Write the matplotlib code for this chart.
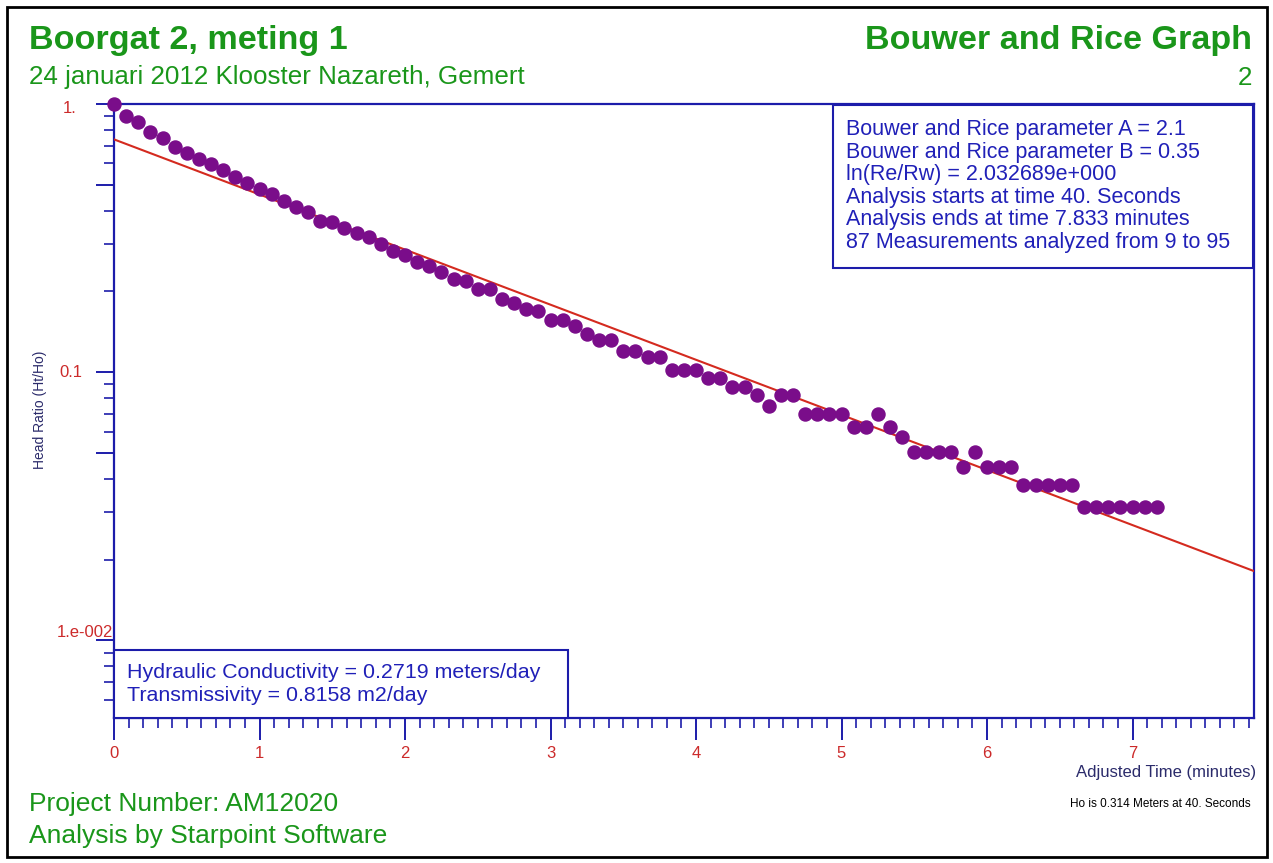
import numpy as np
import matplotlib
matplotlib.use("Agg")
from matplotlib import pyplot as plt
from matplotlib.patches import Rectangle
from matplotlib.ticker import MultipleLocator, LogLocator, NullFormatter
from matplotlib.transforms import blended_transform_factory

plt.rcParams["font.family"] = ["Liberation Sans", "DejaVu Sans"]

# elapsed time since start of analysis (seconds)
elapsed_s = [0, 5, 10, 15, 20, 25, 30, 35, 40, 45, 50, 55, 60, 65, 70,
             75, 80, 85, 90, 95, 100, 105, 110, 115, 120, 125, 130, 135, 140, 145,
             150, 155, 160, 165, 170, 175, 180, 185, 190, 195, 200, 205, 210, 215, 220,
             225, 230, 235, 240, 245, 250, 255, 260, 265, 270, 275, 280, 285, 290, 295,
             300, 305, 310, 315, 320, 325, 330, 335, 340, 345, 350, 355, 360, 365, 370,
             375, 380, 385, 390, 395, 400, 405, 410, 415, 420, 425, 430]
head_ratio = [1.000, 0.902, 0.855, 0.788, 0.749, 0.693, 0.658, 0.622, 0.597, 0.567,
              0.535, 0.506, 0.482, 0.461, 0.435, 0.414, 0.396, 0.367, 0.364, 0.344,
              0.329, 0.320, 0.300, 0.283, 0.273, 0.258, 0.249, 0.236, 0.222, 0.219,
              0.204, 0.204, 0.188, 0.181, 0.172, 0.169, 0.156, 0.156, 0.149, 0.139,
              0.132, 0.132, 0.120, 0.120, 0.114, 0.114, 0.102, 0.102, 0.102, 0.095,
              0.095, 0.088, 0.088, 0.082, 0.075, 0.082, 0.082, 0.070, 0.070, 0.070,
              0.070, 0.0625, 0.0625, 0.070, 0.0625, 0.0572, 0.0502, 0.0502, 0.0502, 0.0502,
              0.0441, 0.0502, 0.0441, 0.0441, 0.0441, 0.0381, 0.0381, 0.0381, 0.0381, 0.0381,
              0.0314, 0.0314, 0.0314, 0.0314, 0.0314, 0.0314, 0.0314]

# fitted straight line (log10 of head ratio vs minutes)
fit_ratio_t0 = 0.738
fit_log_slope = -0.2055

xmax = 7.835
ymin = 0.00513

info_lines = ["Bouwer and Rice parameter A = 2.1",
              "Bouwer and Rice parameter B = 0.35",
              "ln(Re/Rw) = 2.032689e+000",
              "Analysis starts at time 40. Seconds",
              "Analysis ends at time 7.833 minutes",
              "87 Measurements analyzed from 9 to 95"]
result_lines = ["Hydraulic Conductivity = 0.2719 meters/day",
                "Transmissivity = 0.8158 m2/day"]
ytick_vals = [1.0, 0.1, 0.01]
ytick_text = ["1.", "0.1", "1.e-002"]

green = "#1a961a"
frame = "#1c1caa"
txtblue = "#2020b8"
red = "#cc2a2a"
purple = "#7a0d8a"
fitred = "#d42a1f"
navy = "#2b2b6b"

W, H = 1273, 863
def fx(x): return x / W
def fy(y): return 1 - y / H

t_min = np.array(elapsed_s) / 60.0

fig = plt.figure(figsize=(W / 100, H / 100), dpi=100)
ax = fig.add_axes([fx(114), fy(718), fx(1254) - fx(114), fy(104) - fy(718)])
ax.set_yscale("log")
ax.set_xlim(0, xmax)
ax.set_ylim(ymin, 1.0)

tl = np.array([0, xmax])
ax.plot(tl, fit_ratio_t0 * 10 ** (fit_log_slope * tl), color=fitred, lw=1.5, zorder=3)
ax.plot(t_min, head_ratio, "o", color=purple, ms=9.4, mec=purple, clip_on=False, zorder=4)

for s in ax.spines.values():
    s.set_color(frame)
    s.set_linewidth(1.6)

ax.xaxis.set_major_locator(MultipleLocator(1))
ax.xaxis.set_minor_locator(MultipleLocator(0.1))
ax.tick_params(axis="x", which="major", direction="out", length=16, width=1.4,
               color=frame, labelcolor=red, labelsize=12, pad=4)
ax.tick_params(axis="x", which="minor", direction="out", length=7, width=1.2, color=frame)

ax.yaxis.set_major_locator(LogLocator(base=10, subs=[1.0, 5.0]))
ax.yaxis.set_minor_locator(LogLocator(base=10, subs=[2, 3, 4, 6, 7, 8, 9]))
ax.yaxis.set_major_formatter(NullFormatter())
ax.yaxis.set_minor_formatter(NullFormatter())
ax.tick_params(axis="y", which="major", direction="out", length=13, width=1.4, color=frame)
ax.tick_params(axis="y", which="minor", direction="out", length=7, width=1.2, color=frame)

# y tick labels placed like the original
tr = blended_transform_factory(fig.transFigure, ax.transData)
ylab_x = [fx(76), fx(82), fx(113)]
ylab_dy = [0.96, 1.0, 1.07]
for v, lab, x, d in zip(ytick_vals, ytick_text, ylab_x, ylab_dy):
    ax.text(x, v * d, lab, transform=tr, ha="right", va="center", color=red,
            fontsize=12, clip_on=False)

fig.text(fx(40), fy(410), "Head Ratio (Ht/Ho)", rotation=90, ha="center", va="center",
         color=navy, fontsize=10)
fig.text(fx(1256), fy(772), "Adjusted Time (minutes)", ha="right", va="center",
         color=navy, fontsize=12)
fig.text(fx(1251), fy(804), "Ho is 0.314 Meters at 40. Seconds", ha="right", va="center",
         color="black", fontsize=8.5)

# headers / footers
fig.text(fx(29), fy(40), "Boorgat 2, meting 1", ha="left", va="center", color=green,
         fontsize=24.6, fontweight="bold")
fig.text(fx(29), fy(77), "24 januari 2012 Klooster Nazareth, Gemert", ha="left",
         va="center", color=green, fontsize=18.7)
fig.text(fx(1252), fy(40), "Bouwer and Rice Graph", ha="right", va="center", color=green,
         fontsize=24.6, fontweight="bold")
fig.text(fx(1252), fy(78), "2", ha="right", va="center", color=green, fontsize=18.7)
fig.text(fx(29), fy(804), "Project Number: AM12020", ha="left", va="center",
         color=green, fontsize=19)
fig.text(fx(29), fy(836), "Analysis by Starpoint Software", ha="left", va="center",
         color=green, fontsize=19)

# info boxes
fig.add_artist(Rectangle((fx(833), fy(268)), fx(1253) - fx(833), fy(105) - fy(268),
                         transform=fig.transFigure, facecolor="white", edgecolor=frame,
                         lw=1.5, zorder=5))
for i, line in enumerate(info_lines):
    fig.text(fx(846), fy(130 + 22.4 * i), line, ha="left", va="center", color=txtblue,
             fontsize=15.5, zorder=6)

fig.add_artist(Rectangle((fx(114), fy(718)), fx(568) - fx(114), fy(650) - fy(718),
                         transform=fig.transFigure, facecolor="white", edgecolor=frame,
                         lw=1.5, zorder=5))
for i, line in enumerate(result_lines):
    fig.text(fx(127), fy(673 + 22 * i), line, ha="left", va="center", color=txtblue,
             fontsize=15.4, zorder=6)

# outer border
fig.add_artist(Rectangle((fx(7), fy(857)), fx(1267) - fx(7), fy(7) - fy(857),
                         transform=fig.transFigure, fill=False, edgecolor="black",
                         lw=2, zorder=7))

fig.savefig("out.png", dpi=100)
